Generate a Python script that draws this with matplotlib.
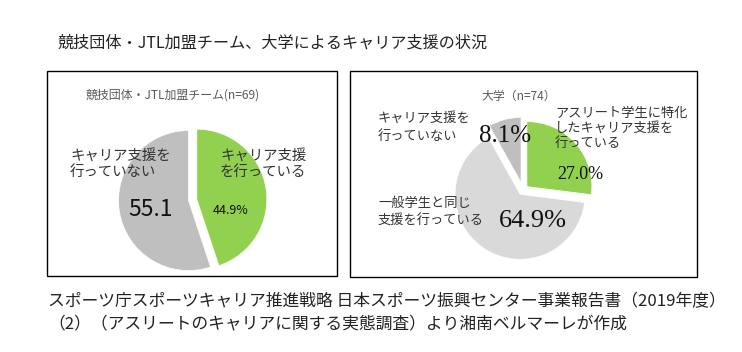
import matplotlib
matplotlib.use('Agg')
import matplotlib.pyplot as plt
from matplotlib.patches import Rectangle

plt.rcParams['font.family'] = ['Noto Sans CJK JP', 'DejaVu Sans']

W, H = 742, 352

# data
title = '競技団体・JTL加盟チーム、大学によるキャリア支援の状況'
source_1 = 'スポーツ庁スポーツキャリア推進戦略 日本スポーツ振興センター事業報告書（2019年度）'
source_2 = '（2）（アスリートのキャリアに関する実態調査）より湘南ベルマーレが作成'

team_title = '競技団体・JTL加盟チーム(n=69)'
team_labels = ['キャリア支援\nを行っている', 'キャリア支援を\n行っていない']
team_values = [44.9, 55.1]
team_pct = ['44.9%', '55.1']
team_colors = ['#92D050', '#BFBFBF']

univ_title = '大学（n=74）'
univ_labels = ['アスリート学生に特化\nしたキャリア支援を\n行っている',
               '一般学生と同じ\n支援を行っている',
               'キャリア支援を\n行っていない']
univ_values = [27.0, 64.9, 8.1]
univ_pct = ['27.0%', '64.9%', '8.1%']
univ_colors = ['#92D050', '#D9D9D9', '#BFBFBF']

fig = plt.figure(figsize=(W / 100, H / 100), dpi=100)
fig.patch.set_facecolor('white')


def txt(x, y, s, **kw):
    # x, y in pixels from top-left
    return fig.text(x / W, 1 - y / H, s, **kw)


def box(x0, y0, x1, y1):
    fig.patches.append(Rectangle((x0 / W, 1 - y1 / H), (x1 - x0) / W, (y1 - y0) / H,
                                 transform=fig.transFigure, fill=False,
                                 edgecolor='black', lw=1.0))


def pie_axes(cx, cy, r, pad=1.3):
    s = r * pad
    ax = fig.add_axes([(cx - s) / W, (H - cy - s) / H, 2 * s / W, 2 * s / H])
    return ax, pad


# title
txt(58, 43, title, fontsize=11.6, va='center', ha='left', color='#222222')

# panels
box(47, 71, 337, 276)
box(350, 71, 697, 277)

# left pie
ax1, pad = pie_axes(192, 200, 70)
ax1.pie(team_values, colors=team_colors, startangle=90, counterclock=False,
        explode=[0.07, 0.05], wedgeprops=dict(edgecolor='white', linewidth=0.5))
ax1.set_xlim(-pad, pad)
ax1.set_ylim(-pad, pad)
ax1.axis('off')

txt(86, 95, team_title, fontsize=8.6, va='center', ha='left', color='#595959')
txt(220, 164, team_labels[0], fontsize=10.4, va='center', ha='left',
    color='#333333', linespacing=1.25)
txt(70, 164, team_labels[1], fontsize=10.4, va='center', ha='left',
    color='#333333', linespacing=1.25)
txt(231, 210, team_pct[0], fontsize=9, va='center', ha='center', color='#111111')
txt(151, 210, team_pct[1], fontsize=16.5, va='center', ha='center', color='#111111')

# right pie
ax2, pad = pie_axes(523, 190, 65)
ax2.pie(univ_values, colors=univ_colors, startangle=90, counterclock=False,
        explode=[0.08, 0.08, 0.12], wedgeprops=dict(edgecolor='white', linewidth=0.5))
ax2.set_xlim(-pad, pad)
ax2.set_ylim(-pad, pad)
ax2.axis('off')

serif = ['Liberation Serif', 'DejaVu Serif']
txt(519, 96, univ_title, fontsize=8.6, va='center', ha='center', color='#595959')
txt(555, 128, univ_labels[0], fontsize=9.5, va='center', ha='left',
    color='#333333', linespacing=1.2)
txt(378, 212, univ_labels[1], fontsize=9.5, va='center', ha='left',
    color='#333333', linespacing=1.45)
txt(378, 127, univ_labels[2], fontsize=9.5, va='center', ha='left',
    color='#333333', linespacing=1.5)
txt(580, 175, univ_pct[0], fontsize=13, va='center', ha='center',
    color='#111111', family=serif)
txt(533, 221, univ_pct[1], fontsize=19, va='center', ha='center',
    color='#111111', family=serif)
txt(505, 136, univ_pct[2], fontsize=18, va='center', ha='center',
    color='#111111', family=serif)

# source note
txt(48, 302, source_1, fontsize=12.1, va='center', ha='left', color='#222222')
txt(48, 325, source_2, fontsize=12.1, va='center', ha='left', color='#222222')

fig.savefig('out.png', dpi=100, facecolor='white')
